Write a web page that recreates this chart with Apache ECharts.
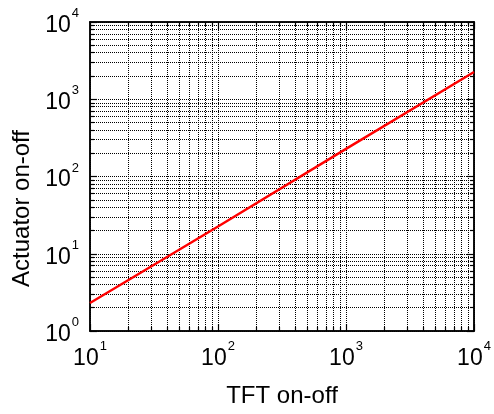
<!DOCTYPE html>
<html>
<head>
<meta charset="utf-8">
<script src="https://cdn.jsdelivr.net/npm/echarts@6/dist/echarts.min.js"></script>
<style>
  html, body { margin: 0; padding: 0; background: #fff; }
  #chart { width: 494px; height: 414px; }
</style>
</head>
<body>
<div id="chart"></div>
<script>
// Ratio of actuator on-off vs TFT on-off (log-log)
const tftOnOff = [10, 100, 1000, 10000];
const actuatorOnOff = [2.3, 22.5, 228, 2250];

// Decade ticks and their exponent labels
const xMajor = [10, 100, 1000, 10000];
const xExps = ['1', '2', '3', '4'];
const yMajor = [1, 10, 100, 1000, 10000];
const yExps = ['0', '1', '2', '3', '4'];

// Minor ticks (2..9 within each decade)
const xMinor = [20, 30, 40, 50, 60, 70, 80, 90,
                200, 300, 400, 500, 600, 700, 800, 900,
                2000, 3000, 4000, 5000, 6000, 7000, 8000, 9000];
const yMinor = [2, 3, 4, 5, 6, 7, 8, 9,
                20, 30, 40, 50, 60, 70, 80, 90,
                200, 300, 400, 500, 600, 700, 800, 900,
                2000, 3000, 4000, 5000, 6000, 7000, 8000, 9000];

const FONT = 'Arial, "Liberation Sans", sans-serif';
const gridRect = { left: 90, right: 20, top: 22, bottom: 83 };
const dotted = { color: '#000', width: 1, type: [1, 1] };
const rich = {
  b: { fontSize: 23, fontFamily: FONT, color: '#000', lineHeight: 30, verticalAlign: 'bottom' },
  e: { fontSize: 13, fontFamily: FONT, color: '#000', lineHeight: 30, verticalAlign: 'top', padding: [0, 0, 0, 1] }
};
function powLabel(majors, exps) {
  return function (v) {
    let i = -1;
    for (let k = 0; k < majors.length; k++) {
      if (Math.abs(majors[k] - v) / majors[k] < 1e-6) { i = k; break; }
    }
    return i < 0 ? '' : '{b|10}{e|' + exps[i] + '}';
  };
}

function xAxisDef(grid, pos, ticks, len, labels, split) {
  return {
    type: 'log', gridIndex: grid, position: pos, min: 10, max: 10000, logBase: 10,
    axisLine: { show: true, lineStyle: { color: '#000', width: 1.5 } },
    axisTick: { show: true, inside: true, length: len, customValues: ticks,
                lineStyle: { color: '#000', width: 1.2 } },
    axisLabel: labels ? { show: true, margin: 9, customValues: xMajor,
                          formatter: powLabel(xMajor, xExps), rich: rich }
                      : { show: false },
    splitLine: { show: split, lineStyle: dotted },
    minorTick: { show: false }
  };
}
function yAxisDef(grid, pos, ticks, len, labels, split) {
  return {
    type: 'log', gridIndex: grid, position: pos, min: 1, max: 10000, logBase: 10,
    axisLine: { show: true, lineStyle: { color: '#000', width: 1.5 } },
    axisTick: { show: true, inside: true, length: len, customValues: ticks,
                lineStyle: { color: '#000', width: 1.2 } },
    axisLabel: labels ? { show: true, margin: 11, customValues: yMajor,
                          formatter: powLabel(yMajor, yExps), rich: rich }
                      : { show: false },
    splitLine: { show: split, lineStyle: dotted },
    minorTick: { show: false }
  };
}

const xMain = xAxisDef(0, 'bottom', xMajor, 7, true, true);
xMain.name = 'TFT on-off';
xMain.nameLocation = 'middle';
xMain.nameGap = 53;
xMain.nameTextStyle = { fontSize: 24, fontFamily: FONT, color: '#000' };

const yMain = yAxisDef(0, 'left', yMajor, 7, true, true);
yMain.name = 'Actuator on-off';
yMain.nameLocation = 'middle';
yMain.nameGap = 56;
yMain.nameTextStyle = { fontSize: 24, fontFamily: FONT, color: '#000', padding: [0, 64, 0, 0] };

const chart = echarts.init(document.getElementById('chart'), null, { renderer: 'canvas' });
chart.setOption({
  animation: false,
  backgroundColor: '#fff',
  grid: [
    Object.assign({ containLabel: false }, gridRect),
    Object.assign({ containLabel: false }, gridRect)
  ],
  xAxis: [
    xMain,
    xAxisDef(0, 'top', xMajor, 7, false, false),
    xAxisDef(1, 'bottom', xMinor, 4, false, true),
    xAxisDef(1, 'top', xMinor, 4, false, false)
  ],
  yAxis: [
    yMain,
    yAxisDef(0, 'right', yMajor, 7, false, false),
    yAxisDef(1, 'left', yMinor, 4, false, true),
    yAxisDef(1, 'right', yMinor, 4, false, false)
  ],
  series: [{
    type: 'line',
    xAxisIndex: 0,
    yAxisIndex: 0,
    data: tftOnOff.map((x, i) => [x, actuatorOnOff[i]]),
    showSymbol: false,
    symbol: 'none',
    lineStyle: { color: '#ff0000', width: 2.4 },
    z: 10
  }]
});
</script>
</body>
</html>
